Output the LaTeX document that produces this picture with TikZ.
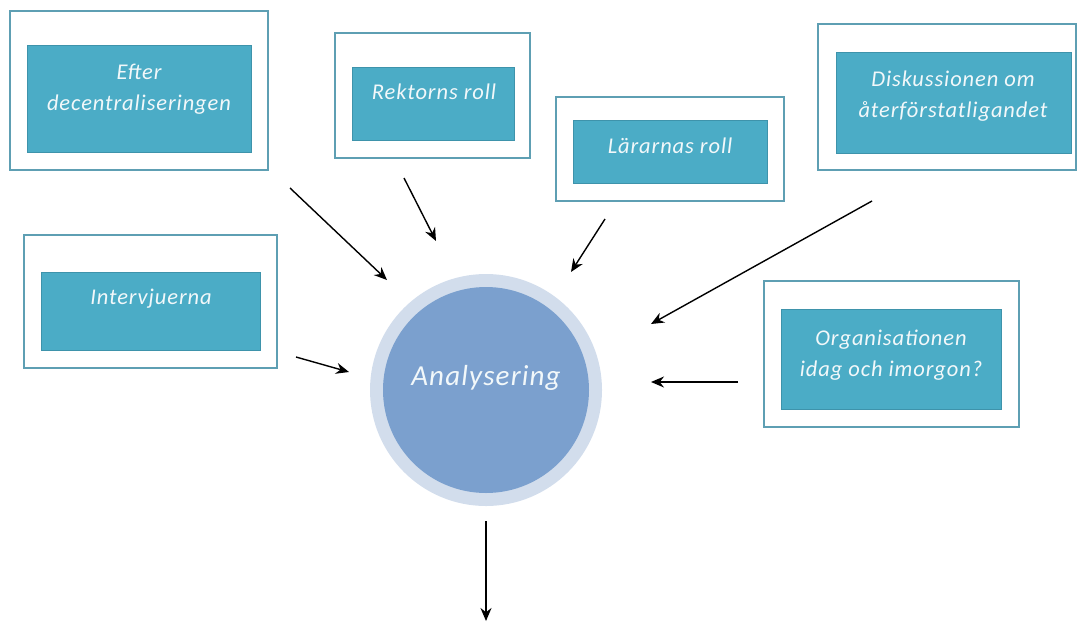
\documentclass[tikz,border=0pt]{standalone}
\usepackage{fontspec}
\setmainfont{Carlito}[LetterSpace=4]
\usetikzlibrary{arrows.meta}
\definecolor{boxfill}{HTML}{4BACC6}
\definecolor{boxline}{HTML}{3E93AB}
\definecolor{frameline}{HTML}{5E9FB3}
\definecolor{ballfill}{HTML}{7BA0CE}
\definecolor{ringfill}{HTML}{D2DDEC}
\definecolor{labeltext}{HTML}{F2F8FA}
\tikzset{
  frame/.style={draw=frameline, line width=1.6pt},
  inner/.style={draw=boxline, fill=boxfill, line width=1pt},
  label/.style={text=labeltext, font=\fontsize{22.5}{31}\selectfont\itshape, align=center},
  arr/.style={-{Stealth[length=13pt,width=11pt]}, line width=1.4pt}
}
\begin{document}
\begin{tikzpicture}[x=1pt,y=-1pt]
  \useasboundingbox (0,0) rectangle (1082,622);
  % frames and boxes
  \draw[frame] (10,11) rectangle (268,170);
  \draw[inner] (27,45) rectangle (251,152);
  \draw[frame] (335,33) rectangle (530,158);
  \draw[inner] (352,67) rectangle (514,140);
  \draw[frame] (556,97) rectangle (784,201);
  \draw[inner] (573,120) rectangle (767,183);
  \draw[frame] (818,24) rectangle (1076,170);
  \draw[inner] (836,52) rectangle (1071,153);
  \draw[frame] (24,235) rectangle (277,368);
  \draw[inner] (41,272) rectangle (260,350);
  \draw[frame] (764,281) rectangle (1019,427);
  \draw[inner] (781,309) rectangle (1001,409);
  % labels
  \node[label] (efter) at (139,89) {Efter\\decentraliseringen};
  \node[label] (rektor) at (434,92) {Rektorns roll};
  \node[label] (larare) at (670,146) {Lärarnas roll};
  \node[label] (disk) at (953,96) {Diskussionen om\\återförstatligandet};
  \node[label] (interv) at (151,299) {Intervjuerna};
  \node[label] (org) at (891,355) {Organisationen\\idag och imorgon?};
  % centre
  \fill[ringfill] (486,390) circle[radius=116];
  \node[circle, fill=ballfill, minimum size=206pt, inner sep=0pt] (ana) at (486,390) {};
  \node[label, font=\fontsize{29}{32}\selectfont\itshape] (anatext) at (486,378) {Analysering};
  % arrow ends
  \coordinate (e1) at (290,188);  \coordinate (f1) at (387,280);
  \coordinate (e2) at (404,178);  \coordinate (f2) at (436,241);
  \coordinate (e3) at (605,219);  \coordinate (f3) at (571,272);
  \coordinate (e4) at (872,201);  \coordinate (f4) at (651,324);
  \coordinate (e5) at (296,357);  \coordinate (f5) at (349,372);
  \coordinate (e6) at (738,382);  \coordinate (f6) at (651,382);
  \coordinate (e7) at (486,521);  \coordinate (f7) at (486,621);
  \foreach \i in {1,...,7}
    \draw[arr] (e\i) -- (f\i);
\end{tikzpicture}
\end{document}
